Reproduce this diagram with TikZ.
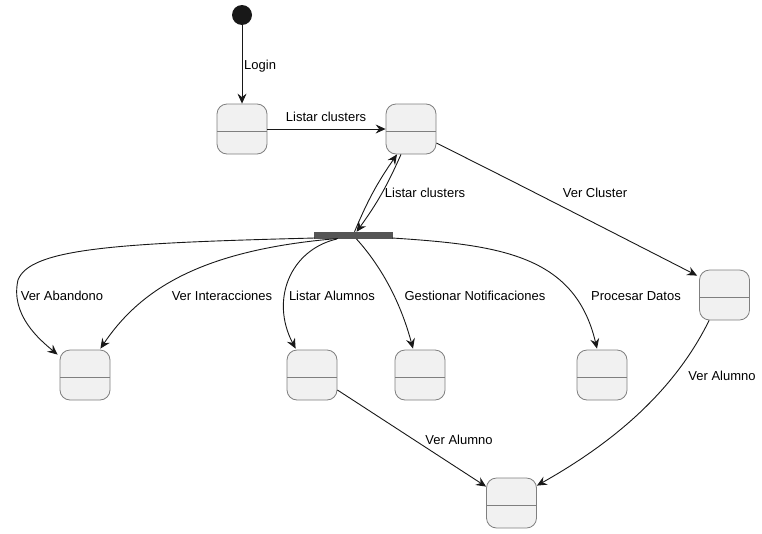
\documentclass[tikz,border=0pt]{standalone}
\usepackage{fontspec}
\setmainfont{Liberation Sans}
\usetikzlibrary{arrows.meta}
\definecolor{stfill}{HTML}{F1F1F1}
\definecolor{stline}{HTML}{7F7F7F}
\definecolor{edge}{HTML}{181818}
\definecolor{barfill}{HTML}{555555}
\begin{document}
\begin{tikzpicture}[x=1pt,y=-1pt,
  font=\fontsize{13}{15}\selectfont,
  statebox/.style={rectangle, rounded corners=10pt, minimum width=50pt, minimum height=50pt,
    inner sep=0pt, fill=stfill, draw=stline, line width=0.8pt,
    path picture={\draw[stline, line width=0.8pt]
      ([yshift=-2pt]path picture bounding box.west) -- ([yshift=-2pt]path picture bounding box.east);}},
  trans/.style={draw=edge, line width=0.9pt,
    -{Stealth[length=10pt, width=9pt, inset=3.5pt]}},
  lbl/.style={inner sep=0pt, text=black}
]
\useasboundingbox (0,0) rectangle (762,533);

% start point, fork bar and states
\node[circle, fill=edge, minimum size=20pt, inner sep=0pt] (init) at (242,15) {};
\node[statebox] (s1) at (242,129) {};
\node[statebox] (s2) at (411,129) {};
\node[statebox] (s3) at (724.5,295) {};
\node[rectangle, fill=barfill, minimum width=79pt, minimum height=7pt, inner sep=0pt] (bar) at (353.5,235.5) {};
\node[statebox] (aban) at (85,375) {};
\node[statebox] (alum) at (312,375) {};
\node[statebox] (noti) at (420,375) {};
\node[statebox] (proc) at (602,375) {};
\node[statebox] (alumno) at (511.5,503) {};

% transitions
\draw[trans] (init) -- (s1);
\node[lbl, anchor=west] at (244,66) {Login};

\draw[trans] (s1.east) -- (s2.west);
\node[lbl] at (326,117) {Listar clusters};

\draw[trans] ([shift={(0,14)}]s2.east) .. controls (520,185) .. ([shift={(-2,6)}]s3.north west);
\node[lbl] at (595,193) {Ver Cluster};

\draw[trans] ([xshift=1pt]bar.north) to[bend left=6] ([shift={(-14,0)}]s2.south);
\draw[trans] ([shift={(-10,0)}]s2.south) to[bend left=6] ([xshift=3pt]bar.north);
\node[lbl] at (425,193) {Listar clusters};

\draw[trans] ([shift={(1,2.5)}]bar.west) .. controls (120,243) and (30,248) .. (18,280)
  .. controls (10,315) and (40,340) .. ([shift={(-2,5)}]aban.north west);
\node[lbl] at (62,296) {Ver Abandono};

\draw[trans] ([shift={(24,3)}]bar.west) .. controls (200,250) and (140,290) .. ([shift={(-10,-1)}]aban.north east);
\node[lbl] at (222,296) {Ver Interacciones};

\draw[trans] ([shift={(23,3.5)}]bar.west) .. controls (290,250) and (270,300) .. ([shift={(9,-1)}]alum.north west);
\node[lbl] at (332,296) {Listar Alumnos};

\draw[trans] ([shift={(3,3.5)}]bar.center) .. controls (380,265) and (400,300) .. ([shift={(-7,-1)}]noti.north);
\node[lbl] at (475,296) {Gestionar Notificaciones};

\draw[trans] ([shift={(-1,2.5)}]bar.east) .. controls (500,245) and (575,255) .. ([shift={(-5,-1)}]proc.north);
\node[lbl] at (636,296) {Procesar Datos};

\draw[trans] ([shift={(0,15)}]alum.east) -- ([shift={(0,9)}]alumno.north west);
\node[lbl] at (459,440) {Ver Alumno};

\draw[trans] ([shift={(10,0)}]s3.south west) .. controls (670,400) and (600,450) .. ([shift={(0,8)}]alumno.north east);
\node[lbl] at (722,376) {Ver Alumno};
\end{tikzpicture}
\end{document}
